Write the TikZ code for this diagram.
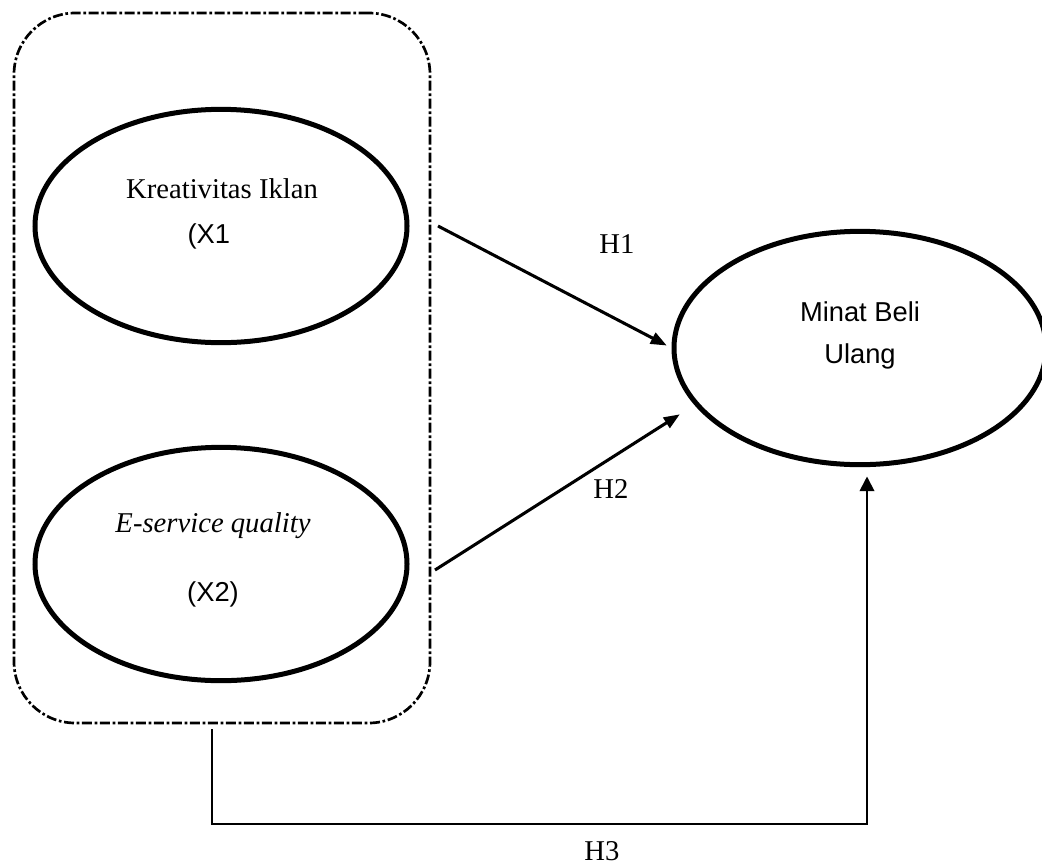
\documentclass[tikz,border=0pt]{standalone}
\usepackage{fontspec}
\setmainfont{Liberation Serif}
\newfontfamily\arialfont{Liberation Sans}
\usetikzlibrary{shapes.geometric,arrows.meta}

\tikzset{every picture/.style={line width=0.75pt}}
\tikzset{
  konstruk/.style={draw, ellipse, line width=3.75pt, minimum width=279pt, minimum height=175pt, inner sep=0pt},
  grupbox/.style={draw, rectangle, rounded corners=46pt, line width=2pt, dash pattern=on 7.5pt off 2pt on 2pt off 2pt, minimum width=312pt, minimum height=532.5pt},
  panah/.style={line width=2.3pt, -{Triangle[length=12pt,width=9pt]}},
  panahtiga/.style={line width=1.4pt, -{Triangle[length=11pt,width=11pt]}},
  teksserif/.style={font=\fontsize{21.5}{26}\selectfont, inner sep=0pt},
  teksarial/.style={font=\arialfont\fontsize{20.5}{31.5}\selectfont, inner sep=0pt},
}

\begin{document}
\begin{tikzpicture}[x=0.75pt,y=0.75pt,yscale=-1,xscale=1]
\useasboundingbox (0,0) rectangle (1042,865);

%Rounded Rect (group of X1 and X2)
\node[grupbox] (grup) at (222,368) {};
%Shape: Ellipse
\node[konstruk] (kreatif) at (221,226) {};
%Shape: Ellipse
\node[konstruk] (eserv) at (221,564) {};
%Shape: Ellipse
\node[konstruk] (minat) at (860,348) {};

% Text Node
\node[teksserif, anchor=base] (kreatifteks) at (222,198) {Kreativitas Iklan};
% Text Node
\node[teksarial, anchor=base west] (xsatu) at (187,243) {(X1};
% Text Node
\node[teksserif, anchor=base] (eservteks) at (213,532) {\textit{E-service quality}};
% Text Node
\node[teksarial, anchor=base] (xdua) at (213,601) {(X2)};
% Text Node
\node[teksarial, align=center] (minatteks) at (860,335) {Minat Beli\\Ulang};
% Text Node
\node[teksserif, anchor=base] (hsatu) at (617,253) {H1};
% Text Node
\node[teksserif, anchor=base] (hdua) at (611,498) {H2};
% Text Node
\node[teksserif, anchor=base] (htiga) at (602,860) {H3};

%Straight Lines
\coordinate (hsatuawal) at (438,226);
\coordinate (hduaawal) at (435,570);
\coordinate (htigaawal) at (212,729);
\coordinate (htigakiri) at (212,824);
\coordinate (htigakanan) at (867,824);
\draw[panah, shorten >=4pt] (hsatuawal) -- (minat.west);
\draw[panah, shorten >=13pt] (hduaawal) -- (minat.199);
\draw[panahtiga, shorten >=7pt] (htigaawal) -- (htigakiri) -- (htigakanan) -- (htigakanan |- minat.south);

\end{tikzpicture}
\end{document}
